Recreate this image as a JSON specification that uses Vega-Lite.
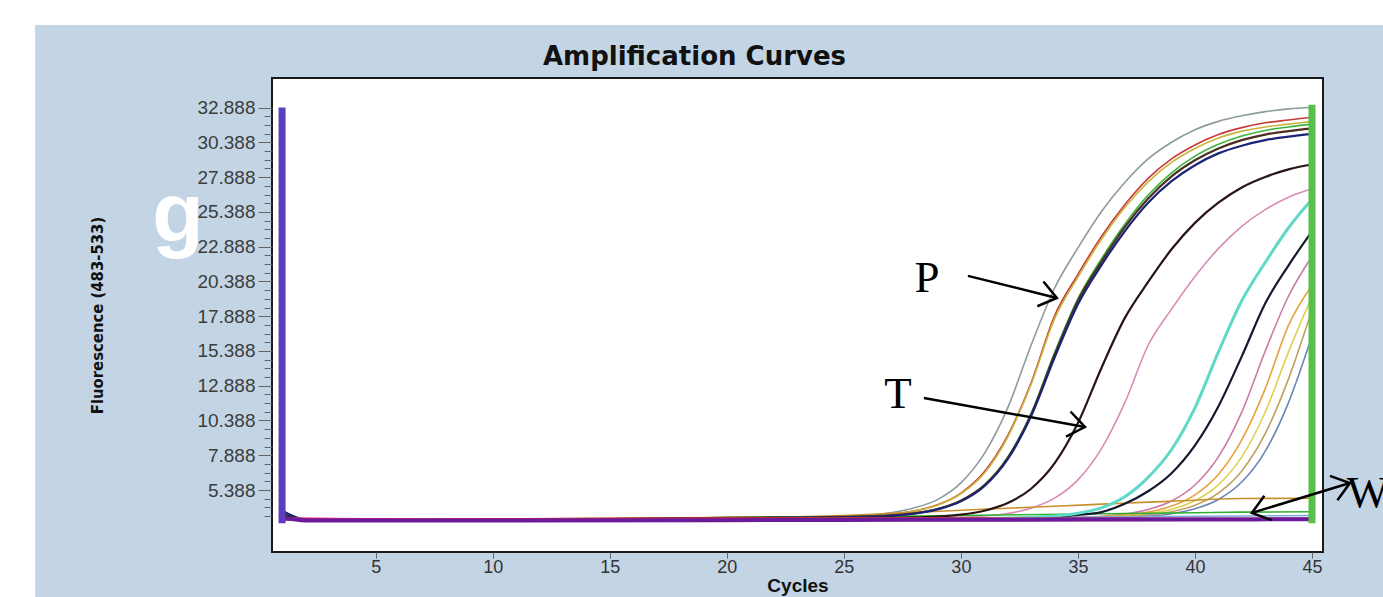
{
  "$schema": "https://vega.github.io/schema/vega-lite/v6.json",
  "width": 1051,
  "height": 474,
  "autosize": {"type": "none"},
  "padding": {"left": 272, "top": 78, "right": 60, "bottom": 45},
  "background": "#c3d5e5",
  "config": {"view": {"fill": "white", "stroke": "#1a1a1a", "strokeWidth": 2}},
  "title": {"text": "Amplification Curves", "font": "DejaVu Sans", "fontSize": 26, "fontWeight": "bold", "color": "#111111", "anchor": "middle", "dx": -103, "offset": -70},
  "datasets": {
    "curves": [
      {"s":"s01","c":1,"f":3.9},{"s":"s01","c":2,"f":3.25},{"s":"s01","c":5,"f":3.22},{"s":"s01","c":10,"f":3.25},{"s":"s01","c":15,"f":3.3},{"s":"s01","c":20,"f":3.38},{"s":"s01","c":22,"f":3.42},{"s":"s01","c":24,"f":3.46},{"s":"s01","c":25,"f":3.5},{"s":"s01","c":26,"f":3.58},{"s":"s01","c":27,"f":3.75},{"s":"s01","c":28,"f":4.1},{"s":"s01","c":29,"f":4.7},{"s":"s01","c":30,"f":5.9},{"s":"s01","c":31,"f":8.0},{"s":"s01","c":32,"f":11.3},{"s":"s01","c":33,"f":15.8},{"s":"s01","c":34,"f":19.9},{"s":"s01","c":35,"f":22.8},{"s":"s01","c":36,"f":25.4},{"s":"s01","c":37,"f":27.5},{"s":"s01","c":38,"f":29.2},{"s":"s01","c":39,"f":30.4},{"s":"s01","c":40,"f":31.3},{"s":"s01","c":41,"f":31.9},{"s":"s01","c":42,"f":32.3},{"s":"s01","c":43,"f":32.6},{"s":"s01","c":44,"f":32.8},{"s":"s01","c":45,"f":32.9},
      {"s":"s02","c":1,"f":3.6},{"s":"s02","c":2,"f":3.22},{"s":"s02","c":5,"f":3.2},{"s":"s02","c":10,"f":3.24},{"s":"s02","c":15,"f":3.3},{"s":"s02","c":20,"f":3.4},{"s":"s02","c":22,"f":3.44},{"s":"s02","c":24,"f":3.46},{"s":"s02","c":25,"f":3.48},{"s":"s02","c":26,"f":3.53},{"s":"s02","c":27,"f":3.65},{"s":"s02","c":28,"f":3.88},{"s":"s02","c":29,"f":4.32},{"s":"s02","c":30,"f":5.17},{"s":"s02","c":31,"f":6.7},{"s":"s02","c":32,"f":9.3},{"s":"s02","c":33,"f":13.1},{"s":"s02","c":34,"f":17.9},{"s":"s02","c":35,"f":20.9},{"s":"s02","c":36,"f":23.6},{"s":"s02","c":37,"f":25.9},{"s":"s02","c":38,"f":27.8},{"s":"s02","c":39,"f":29.2},{"s":"s02","c":40,"f":30.2},{"s":"s02","c":41,"f":30.95},{"s":"s02","c":42,"f":31.45},{"s":"s02","c":43,"f":31.8},{"s":"s02","c":44,"f":32.0},{"s":"s02","c":45,"f":32.2},
      {"s":"s03","c":1,"f":3.5},{"s":"s03","c":2,"f":3.22},{"s":"s03","c":5,"f":3.2},{"s":"s03","c":10,"f":3.25},{"s":"s03","c":15,"f":3.32},{"s":"s03","c":20,"f":3.42},{"s":"s03","c":22,"f":3.46},{"s":"s03","c":24,"f":3.48},{"s":"s03","c":25,"f":3.5},{"s":"s03","c":26,"f":3.55},{"s":"s03","c":27,"f":3.66},{"s":"s03","c":28,"f":3.88},{"s":"s03","c":29,"f":4.3},{"s":"s03","c":30,"f":5.12},{"s":"s03","c":31,"f":6.6},{"s":"s03","c":32,"f":9.2},{"s":"s03","c":33,"f":13.0},{"s":"s03","c":34,"f":17.7},{"s":"s03","c":35,"f":20.7},{"s":"s03","c":36,"f":23.4},{"s":"s03","c":37,"f":25.7},{"s":"s03","c":38,"f":27.55},{"s":"s03","c":39,"f":28.95},{"s":"s03","c":40,"f":29.95},{"s":"s03","c":41,"f":30.7},{"s":"s03","c":42,"f":31.2},{"s":"s03","c":43,"f":31.5},{"s":"s03","c":44,"f":31.7},{"s":"s03","c":45,"f":31.9},
      {"s":"s04","c":1,"f":3.4},{"s":"s04","c":2,"f":3.25},{"s":"s04","c":5,"f":3.22},{"s":"s04","c":10,"f":3.26},{"s":"s04","c":15,"f":3.32},{"s":"s04","c":20,"f":3.4},{"s":"s04","c":22,"f":3.44},{"s":"s04","c":24,"f":3.45},{"s":"s04","c":25,"f":3.47},{"s":"s04","c":26,"f":3.5},{"s":"s04","c":27,"f":3.57},{"s":"s04","c":28,"f":3.72},{"s":"s04","c":29,"f":4.03},{"s":"s04","c":30,"f":4.63},{"s":"s04","c":31,"f":5.75},{"s":"s04","c":32,"f":7.75},{"s":"s04","c":33,"f":10.9},{"s":"s04","c":34,"f":15.25},{"s":"s04","c":35,"f":19.15},{"s":"s04","c":36,"f":22.0},{"s":"s04","c":37,"f":24.5},{"s":"s04","c":38,"f":26.6},{"s":"s04","c":39,"f":28.2},{"s":"s04","c":40,"f":29.4},{"s":"s04","c":41,"f":30.25},{"s":"s04","c":42,"f":30.85},{"s":"s04","c":43,"f":31.25},{"s":"s04","c":44,"f":31.5},{"s":"s04","c":45,"f":31.7},
      {"s":"s05","c":1,"f":3.7},{"s":"s05","c":2,"f":3.25},{"s":"s05","c":5,"f":3.22},{"s":"s05","c":10,"f":3.25},{"s":"s05","c":15,"f":3.3},{"s":"s05","c":20,"f":3.38},{"s":"s05","c":22,"f":3.42},{"s":"s05","c":24,"f":3.43},{"s":"s05","c":25,"f":3.45},{"s":"s05","c":26,"f":3.49},{"s":"s05","c":27,"f":3.56},{"s":"s05","c":28,"f":3.71},{"s":"s05","c":29,"f":4.02},{"s":"s05","c":30,"f":4.62},{"s":"s05","c":31,"f":5.72},{"s":"s05","c":32,"f":7.68},{"s":"s05","c":33,"f":10.8},{"s":"s05","c":34,"f":15.1},{"s":"s05","c":35,"f":19.0},{"s":"s05","c":36,"f":21.8},{"s":"s05","c":37,"f":24.3},{"s":"s05","c":38,"f":26.35},{"s":"s05","c":39,"f":27.95},{"s":"s05","c":40,"f":29.1},{"s":"s05","c":41,"f":29.95},{"s":"s05","c":42,"f":30.55},{"s":"s05","c":43,"f":30.95},{"s":"s05","c":44,"f":31.2},{"s":"s05","c":45,"f":31.4},
      {"s":"s06","c":1,"f":3.9},{"s":"s06","c":2,"f":3.28},{"s":"s06","c":5,"f":3.22},{"s":"s06","c":10,"f":3.24},{"s":"s06","c":15,"f":3.28},{"s":"s06","c":20,"f":3.35},{"s":"s06","c":22,"f":3.38},{"s":"s06","c":24,"f":3.4},{"s":"s06","c":25,"f":3.42},{"s":"s06","c":26,"f":3.46},{"s":"s06","c":27,"f":3.53},{"s":"s06","c":28,"f":3.68},{"s":"s06","c":29,"f":3.99},{"s":"s06","c":30,"f":4.57},{"s":"s06","c":31,"f":5.66},{"s":"s06","c":32,"f":7.6},{"s":"s06","c":33,"f":10.7},{"s":"s06","c":34,"f":14.9},{"s":"s06","c":35,"f":18.75},{"s":"s06","c":36,"f":21.55},{"s":"s06","c":37,"f":24.0},{"s":"s06","c":38,"f":26.05},{"s":"s06","c":39,"f":27.6},{"s":"s06","c":40,"f":28.75},{"s":"s06","c":41,"f":29.6},{"s":"s06","c":42,"f":30.15},{"s":"s06","c":43,"f":30.55},{"s":"s06","c":44,"f":30.8},{"s":"s06","c":45,"f":31.0},
      {"s":"s07","c":1,"f":3.5},{"s":"s07","c":2,"f":3.22},{"s":"s07","c":5,"f":3.2},{"s":"s07","c":10,"f":3.22},{"s":"s07","c":15,"f":3.26},{"s":"s07","c":20,"f":3.3},{"s":"s07","c":25,"f":3.35},{"s":"s07","c":26,"f":3.36},{"s":"s07","c":27,"f":3.38},{"s":"s07","c":28,"f":3.42},{"s":"s07","c":29,"f":3.48},{"s":"s07","c":30,"f":3.62},{"s":"s07","c":31,"f":3.9},{"s":"s07","c":32,"f":4.45},{"s":"s07","c":33,"f":5.48},{"s":"s07","c":34,"f":7.3},{"s":"s07","c":35,"f":10.2},{"s":"s07","c":36,"f":14.15},{"s":"s07","c":37,"f":17.75},{"s":"s07","c":38,"f":20.35},{"s":"s07","c":39,"f":22.7},{"s":"s07","c":40,"f":24.6},{"s":"s07","c":41,"f":26.05},{"s":"s07","c":42,"f":27.15},{"s":"s07","c":43,"f":27.9},{"s":"s07","c":44,"f":28.45},{"s":"s07","c":45,"f":28.8},
      {"s":"s08","c":1,"f":3.4},{"s":"s08","c":2,"f":3.2},{"s":"s08","c":5,"f":3.2},{"s":"s08","c":10,"f":3.22},{"s":"s08","c":15,"f":3.25},{"s":"s08","c":20,"f":3.3},{"s":"s08","c":25,"f":3.32},{"s":"s08","c":28,"f":3.35},{"s":"s08","c":29,"f":3.37},{"s":"s08","c":30,"f":3.42},{"s":"s08","c":31,"f":3.52},{"s":"s08","c":32,"f":3.7},{"s":"s08","c":33,"f":4.08},{"s":"s08","c":34,"f":4.8},{"s":"s08","c":35,"f":6.12},{"s":"s08","c":36,"f":8.35},{"s":"s08","c":37,"f":11.65},{"s":"s08","c":38,"f":15.8},{"s":"s08","c":39,"f":18.4},{"s":"s08","c":40,"f":20.75},{"s":"s08","c":41,"f":22.75},{"s":"s08","c":42,"f":24.35},{"s":"s08","c":43,"f":25.55},{"s":"s08","c":44,"f":26.45},{"s":"s08","c":45,"f":27.05},
      {"s":"s09","c":1,"f":3.3},{"s":"s09","c":5,"f":3.2},{"s":"s09","c":10,"f":3.22},{"s":"s09","c":15,"f":3.25},{"s":"s09","c":20,"f":3.28},{"s":"s09","c":25,"f":3.3},{"s":"s09","c":30,"f":3.33},{"s":"s09","c":31,"f":3.34},{"s":"s09","c":32,"f":3.37},{"s":"s09","c":33,"f":3.42},{"s":"s09","c":34,"f":3.52},{"s":"s09","c":35,"f":3.72},{"s":"s09","c":36,"f":4.1},{"s":"s09","c":37,"f":4.9},{"s":"s09","c":38,"f":6.3},{"s":"s09","c":39,"f":8.3},{"s":"s09","c":40,"f":11.3},{"s":"s09","c":41,"f":15.3},{"s":"s09","c":42,"f":19.0},{"s":"s09","c":43,"f":21.75},{"s":"s09","c":44,"f":24.25},{"s":"s09","c":45,"f":26.3},
      {"s":"s10","c":1,"f":3.3},{"s":"s10","c":5,"f":3.2},{"s":"s10","c":10,"f":3.22},{"s":"s10","c":15,"f":3.25},{"s":"s10","c":20,"f":3.28},{"s":"s10","c":25,"f":3.3},{"s":"s10","c":30,"f":3.33},{"s":"s10","c":32,"f":3.36},{"s":"s10","c":33,"f":3.4},{"s":"s10","c":34,"f":3.47},{"s":"s10","c":35,"f":3.6},{"s":"s10","c":36,"f":3.8},{"s":"s10","c":37,"f":4.4},{"s":"s10","c":38,"f":5.3},{"s":"s10","c":39,"f":6.6},{"s":"s10","c":40,"f":8.6},{"s":"s10","c":41,"f":11.4},{"s":"s10","c":42,"f":15.0},{"s":"s10","c":43,"f":18.8},{"s":"s10","c":44,"f":21.55},{"s":"s10","c":45,"f":24.0},
      {"s":"s11","c":1,"f":3.3},{"s":"s11","c":5,"f":3.2},{"s":"s11","c":10,"f":3.22},{"s":"s11","c":15,"f":3.25},{"s":"s11","c":20,"f":3.28},{"s":"s11","c":25,"f":3.3},{"s":"s11","c":30,"f":3.32},{"s":"s11","c":33,"f":3.35},{"s":"s11","c":34,"f":3.37},{"s":"s11","c":35,"f":3.42},{"s":"s11","c":36,"f":3.5},{"s":"s11","c":37,"f":3.66},{"s":"s11","c":38,"f":3.99},{"s":"s11","c":39,"f":4.6},{"s":"s11","c":40,"f":5.75},{"s":"s11","c":41,"f":7.77},{"s":"s11","c":42,"f":10.99},{"s":"s11","c":43,"f":15.37},{"s":"s11","c":44,"f":19.34},{"s":"s11","c":45,"f":22.2},
      {"s":"s12","c":1,"f":3.3},{"s":"s12","c":5,"f":3.2},{"s":"s12","c":10,"f":3.22},{"s":"s12","c":15,"f":3.25},{"s":"s12","c":20,"f":3.3},{"s":"s12","c":25,"f":3.33},{"s":"s12","c":30,"f":3.35},{"s":"s12","c":33,"f":3.36},{"s":"s12","c":34,"f":3.38},{"s":"s12","c":35,"f":3.41},{"s":"s12","c":36,"f":3.47},{"s":"s12","c":37,"f":3.58},{"s":"s12","c":38,"f":3.8},{"s":"s12","c":39,"f":4.23},{"s":"s12","c":40,"f":5.04},{"s":"s12","c":41,"f":6.51},{"s":"s12","c":42,"f":8.99},{"s":"s12","c":43,"f":12.66},{"s":"s12","c":44,"f":17.25},{"s":"s12","c":45,"f":20.1},
      {"s":"s13","c":1,"f":3.3},{"s":"s13","c":5,"f":3.2},{"s":"s13","c":10,"f":3.22},{"s":"s13","c":15,"f":3.25},{"s":"s13","c":20,"f":3.3},{"s":"s13","c":25,"f":3.33},{"s":"s13","c":30,"f":3.35},{"s":"s13","c":34,"f":3.37},{"s":"s13","c":35,"f":3.39},{"s":"s13","c":36,"f":3.44},{"s":"s13","c":37,"f":3.52},{"s":"s13","c":38,"f":3.68},{"s":"s13","c":39,"f":4.0},{"s":"s13","c":40,"f":4.62},{"s":"s13","c":41,"f":5.76},{"s":"s13","c":42,"f":7.77},{"s":"s13","c":43,"f":10.98},{"s":"s13","c":44,"f":15.34},{"s":"s13","c":45,"f":19.3},
      {"s":"s14","c":1,"f":3.3},{"s":"s14","c":5,"f":3.2},{"s":"s14","c":10,"f":3.22},{"s":"s14","c":15,"f":3.25},{"s":"s14","c":20,"f":3.3},{"s":"s14","c":25,"f":3.33},{"s":"s14","c":30,"f":3.35},{"s":"s14","c":34,"f":3.37},{"s":"s14","c":35,"f":3.38},{"s":"s14","c":36,"f":3.41},{"s":"s14","c":37,"f":3.48},{"s":"s14","c":38,"f":3.6},{"s":"s14","c":39,"f":3.83},{"s":"s14","c":40,"f":4.3},{"s":"s14","c":41,"f":5.17},{"s":"s14","c":42,"f":6.76},{"s":"s14","c":43,"f":9.44},{"s":"s14","c":44,"f":13.4},{"s":"s14","c":45,"f":18.35},
      {"s":"s15","c":1,"f":3.3},{"s":"s15","c":5,"f":3.2},{"s":"s15","c":10,"f":3.22},{"s":"s15","c":15,"f":3.25},{"s":"s15","c":20,"f":3.28},{"s":"s15","c":25,"f":3.3},{"s":"s15","c":30,"f":3.32},{"s":"s15","c":35,"f":3.35},{"s":"s15","c":36,"f":3.37},{"s":"s15","c":37,"f":3.42},{"s":"s15","c":38,"f":3.5},{"s":"s15","c":39,"f":3.68},{"s":"s15","c":40,"f":4.04},{"s":"s15","c":41,"f":4.71},{"s":"s15","c":42,"f":5.96},{"s":"s15","c":43,"f":8.17},{"s":"s15","c":44,"f":11.69},{"s":"s15","c":45,"f":16.48},
      {"s":"z1","c":1,"f":3.5},{"s":"z1","c":2,"f":3.25},{"s":"z1","c":5,"f":3.25},{"s":"z1","c":10,"f":3.28},{"s":"z1","c":15,"f":3.32},{"s":"z1","c":20,"f":3.38},{"s":"z1","c":25,"f":3.55},{"s":"z1","c":26,"f":3.62},{"s":"z1","c":28,"f":3.78},{"s":"z1","c":30,"f":3.93},{"s":"z1","c":32,"f":4.08},{"s":"z1","c":34,"f":4.22},{"s":"z1","c":36,"f":4.37},{"s":"z1","c":38,"f":4.52},{"s":"z1","c":40,"f":4.65},{"s":"z1","c":41,"f":4.74},{"s":"z1","c":42,"f":4.78},{"s":"z1","c":45,"f":4.8},
      {"s":"z2","c":1,"f":3.4},{"s":"z2","c":2,"f":3.26},{"s":"z2","c":10,"f":3.3},{"s":"z2","c":20,"f":3.38},{"s":"z2","c":25,"f":3.46},{"s":"z2","c":30,"f":3.56},{"s":"z2","c":35,"f":3.66},{"s":"z2","c":40,"f":3.75},{"s":"z2","c":42,"f":3.8},{"s":"z2","c":45,"f":3.82},
      {"s":"z3","c":1,"f":3.3},{"s":"z3","c":10,"f":3.25},{"s":"z3","c":20,"f":3.28},{"s":"z3","c":30,"f":3.36},{"s":"z3","c":40,"f":3.5},{"s":"z3","c":45,"f":3.55},
      {"s":"z4","c":1,"f":3.3},{"s":"z4","c":5,"f":3.24},{"s":"z4","c":10,"f":3.26},{"s":"z4","c":15,"f":3.3},{"s":"z4","c":20,"f":3.33},{"s":"z4","c":25,"f":3.33},{"s":"z4","c":30,"f":3.32},{"s":"z4","c":35,"f":3.3},{"s":"z4","c":40,"f":3.3},{"s":"z4","c":45,"f":3.3},
      {"s":"z5","c":1,"f":3.3},{"s":"z5","c":10,"f":3.22},{"s":"z5","c":20,"f":3.25},{"s":"z5","c":25,"f":3.26},{"s":"z5","c":30,"f":3.25},{"s":"z5","c":35,"f":3.25},{"s":"z5","c":40,"f":3.26},{"s":"z5","c":45,"f":3.26},
      {"s":"z6","c":1,"f":3.4},{"s":"z6","c":2,"f":3.2},{"s":"z6","c":10,"f":3.2},{"s":"z6","c":20,"f":3.22},{"s":"z6","c":25,"f":3.24},{"s":"z6","c":30,"f":3.25},{"s":"z6","c":35,"f":3.26},{"s":"z6","c":40,"f":3.27},{"s":"z6","c":45,"f":3.28}
    ],
    "strips": [
      {"c": -12, "c2": -9.55, "f": -10, "f2": 40.63},
      {"c": -12, "c2": 60, "f": 38.84, "f2": 40.63}
    ],
    "bars": [
      {"bar": "start", "c": 1, "f": 3.0, "f2": 32.9},
      {"bar": "end", "c": 45, "f": 3.0, "f2": 33.1}
    ],
    "arrows": [
      {"a": "P", "c": 30.3, "f": 20.79, "c2": 34.1, "f2": 19.2},
      {"a": "T", "c": 28.42, "f": 12.01, "c2": 35.3, "f2": 9.92},
      {"a": "W", "c": 42.43, "f": 3.74, "c2": 46.62, "f2": 5.89}
    ],
    "letters": [
      {"label": "P", "c": 28.55, "f": 19.64},
      {"label": "T", "c": 27.31, "f": 11.29},
      {"label": "W", "c": 47.39, "f": 4.17}
    ],
    "panel": [
      {"label": "g", "c": -3.45, "f": 23.23}
    ]
  },
  "encoding": {
    "x": {
      "field": "c", "type": "quantitative",
      "scale": {"domain": [0.57, 45.47], "nice": false, "zero": false},
      "axis": {
        "values": [5, 10, 15, 20, 25, 30, 35, 40, 45],
        "domain": false, "grid": false,
        "tickSize": 6, "tickColor": "#666666",
        "labelFont": "Liberation Sans", "labelFontSize": 18, "labelColor": "#333333", "labelPadding": 0,
        "title": "Cycles", "titleFont": "Liberation Sans", "titleFontWeight": "bold", "titleFontSize": 19, "titleColor": "#111111", "titlePadding": 0
      }
    },
    "y": {
      "field": "f", "type": "quantitative",
      "scale": {"domain": [0.93, 35.02], "nice": false, "zero": false},
      "axis": {
        "values": [3.513, 4.138, 4.763, 5.388, 6.013, 6.638, 7.263, 7.888, 8.513, 9.138, 9.763, 10.388, 11.013, 11.638, 12.263, 12.888, 13.513, 14.138, 14.763, 15.388, 16.013, 16.638, 17.263, 17.888, 18.513, 19.138, 19.763, 20.388, 21.013, 21.638, 22.263, 22.888, 23.513, 24.138, 24.763, 25.388, 26.013, 26.638, 27.263, 27.888, 28.513, 29.138, 29.763, 30.388, 31.013, 31.638, 32.263, 32.888],
        "labelExpr": "abs((datum.value - 5.388) / 2.5 - round((datum.value - 5.388) / 2.5)) < 0.01 ? format(datum.value, '.3f') : ''",
        "domain": false, "grid": false,
        "tickSize": {"condition": {"test": "abs((datum.value - 5.388) / 2.5 - round((datum.value - 5.388) / 2.5)) < 0.01", "value": 14}, "value": 8},
        "tickColor": "#666666",
        "labelFont": "Liberation Sans", "labelFontSize": 19, "labelColor": "#3c3c3c", "labelPadding": 3,
        "title": "Fluorescence (483-533)", "titleFont": "Liberation Sans Narrow, DejaVu Sans Condensed, sans-serif", "titleFontWeight": "bold", "titleFontSize": 16.5, "titleColor": "#111111",
        "titleX": -175, "titleBaseline": "middle"
      }
    }
  },
  "layer": [
    {
      "data": {"name": "strips"},
      "mark": {"type": "rect", "color": "white", "clip": false},
      "encoding": {"x2": {"field": "c2"}, "y2": {"field": "f2"}}
    },
    {
      "data": {"name": "curves"},
      "transform": [{"filter": "indexof(['s01','s02','s03','s04','s08','s11','s12','s13','s14','s15','z1','z2','z3'], datum.s) >= 0"}],
      "mark": {"type": "line", "interpolate": "monotone", "strokeWidth": 1.6},
      "encoding": {
        "detail": {"field": "s", "type": "nominal"},
        "color": {
          "field": "s", "type": "nominal", "legend": null,
          "scale": {
            "domain": ["s01","s02","s03","s04","s05","s06","s07","s08","s09","s10","s11","s12","s13","s14","s15","z1","z2","z3","z4","z5","z6"],
            "range": ["#8c9c9c","#c83a3a","#c8b43c","#3cb43c","#4a3020","#1c2478","#2a1414","#d88cb8","#5fd8c8","#141a30","#c87aa8","#e8a040","#e0d050","#c0a060","#6a86b4","#c8902c","#30b030","#7aa8e0","#d82424","#e0207a","#6a1a9a"]
          }
        }
      }
    },
    {
      "data": {"name": "curves"},
      "transform": [{"filter": "indexof(['s05','s06','s07','s10'], datum.s) >= 0"}],
      "mark": {"type": "line", "interpolate": "monotone", "strokeWidth": 2.2},
      "encoding": {
        "detail": {"field": "s", "type": "nominal"},
        "color": {
          "field": "s", "type": "nominal", "legend": null,
          "scale": {
            "domain": ["s01","s02","s03","s04","s05","s06","s07","s08","s09","s10","s11","s12","s13","s14","s15","z1","z2","z3","z4","z5","z6"],
            "range": ["#8c9c9c","#c83a3a","#c8b43c","#3cb43c","#4a3020","#1c2478","#2a1414","#d88cb8","#5fd8c8","#141a30","#c87aa8","#e8a040","#e0d050","#c0a060","#6a86b4","#c8902c","#30b030","#7aa8e0","#d82424","#e0207a","#6a1a9a"]
          }
        }
      }
    },
    {
      "data": {"name": "curves"},
      "transform": [{"filter": "indexof(['s09','z4','z5'], datum.s) >= 0"}],
      "mark": {"type": "line", "interpolate": "monotone", "strokeWidth": 3},
      "encoding": {
        "detail": {"field": "s", "type": "nominal"},
        "color": {
          "field": "s", "type": "nominal", "legend": null,
          "scale": {
            "domain": ["s01","s02","s03","s04","s05","s06","s07","s08","s09","s10","s11","s12","s13","s14","s15","z1","z2","z3","z4","z5","z6"],
            "range": ["#8c9c9c","#c83a3a","#c8b43c","#3cb43c","#4a3020","#1c2478","#2a1414","#d88cb8","#5fd8c8","#141a30","#c87aa8","#e8a040","#e0d050","#c0a060","#6a86b4","#c8902c","#30b030","#7aa8e0","#d82424","#e0207a","#6a1a9a"]
          }
        }
      }
    },
    {
      "data": {"name": "curves"},
      "transform": [{"filter": "datum.s == 'z6'"}],
      "mark": {"type": "line", "interpolate": "monotone", "strokeWidth": 4},
      "encoding": {
        "detail": {"field": "s", "type": "nominal"},
        "color": {
          "field": "s", "type": "nominal", "legend": null,
          "scale": {
            "domain": ["s01","s02","s03","s04","s05","s06","s07","s08","s09","s10","s11","s12","s13","s14","s15","z1","z2","z3","z4","z5","z6"],
            "range": ["#8c9c9c","#c83a3a","#c8b43c","#3cb43c","#4a3020","#1c2478","#2a1414","#d88cb8","#5fd8c8","#141a30","#c87aa8","#e8a040","#e0d050","#c0a060","#6a86b4","#c8902c","#30b030","#7aa8e0","#d82424","#e0207a","#6a1a9a"]
          }
        }
      }
    },
    {
      "data": {"name": "bars"},
      "transform": [{"filter": "datum.bar == 'start'"}],
      "mark": {"type": "rule", "color": "#5b3fbf", "strokeWidth": 7},
      "encoding": {"y2": {"field": "f2"}}
    },
    {
      "data": {"name": "bars"},
      "transform": [{"filter": "datum.bar == 'end'"}],
      "mark": {"type": "rule", "color": "#58c048", "strokeWidth": 7},
      "encoding": {"y2": {"field": "f2"}}
    },
    {
      "data": {"name": "arrows"},
      "mark": {"type": "rule", "color": "black", "strokeWidth": 2.5, "clip": false},
      "encoding": {"x2": {"field": "c2"}, "y2": {"field": "f2"}}
    },
    {
      "data": {"name": "arrows"},
      "transform": [{"filter": "datum.a == 'P'"}],
      "mark": {"type": "point", "shape": "M -1 -0.75 L 0 0 L -1 0.75", "filled": false, "stroke": "black", "strokeWidth": 2.5, "opacity": 1, "size": 1150, "angle": 13.9, "clip": false},
      "encoding": {"x": {"field": "c2", "type": "quantitative"}, "y": {"field": "f2", "type": "quantitative"}}
    },
    {
      "data": {"name": "arrows"},
      "transform": [{"filter": "datum.a == 'T'"}],
      "mark": {"type": "point", "shape": "M -1 -0.75 L 0 0 L -1 0.75", "filled": false, "stroke": "black", "strokeWidth": 2.5, "opacity": 1, "size": 1150, "angle": 10.2, "clip": false},
      "encoding": {"x": {"field": "c2", "type": "quantitative"}, "y": {"field": "f2", "type": "quantitative"}}
    },
    {
      "data": {"name": "arrows"},
      "transform": [{"filter": "datum.a == 'W'"}],
      "mark": {"type": "point", "shape": "M -1 -0.75 L 0 0 L -1 0.75", "filled": false, "stroke": "black", "strokeWidth": 2.5, "opacity": 1, "size": 1150, "angle": 343, "clip": false},
      "encoding": {"x": {"field": "c2", "type": "quantitative"}, "y": {"field": "f2", "type": "quantitative"}}
    },
    {
      "data": {"name": "arrows"},
      "transform": [{"filter": "datum.a == 'W'"}],
      "mark": {"type": "point", "shape": "M -1 -0.75 L 0 0 L -1 0.75", "filled": false, "stroke": "black", "strokeWidth": 2.5, "opacity": 1, "size": 1150, "angle": 163, "clip": false}
    },
    {
      "data": {"name": "letters"},
      "mark": {"type": "text", "font": "Liberation Serif", "fontSize": 45, "align": "center", "baseline": "alphabetic", "color": "black", "clip": false},
      "encoding": {"text": {"field": "label"}}
    },
    {
      "data": {"name": "panel"},
      "mark": {"type": "text", "font": "Liberation Sans", "fontWeight": "bold", "fontSize": 84, "align": "center", "baseline": "alphabetic", "color": "white", "clip": false},
      "encoding": {"text": {"field": "label"}}
    }
  ]
}
